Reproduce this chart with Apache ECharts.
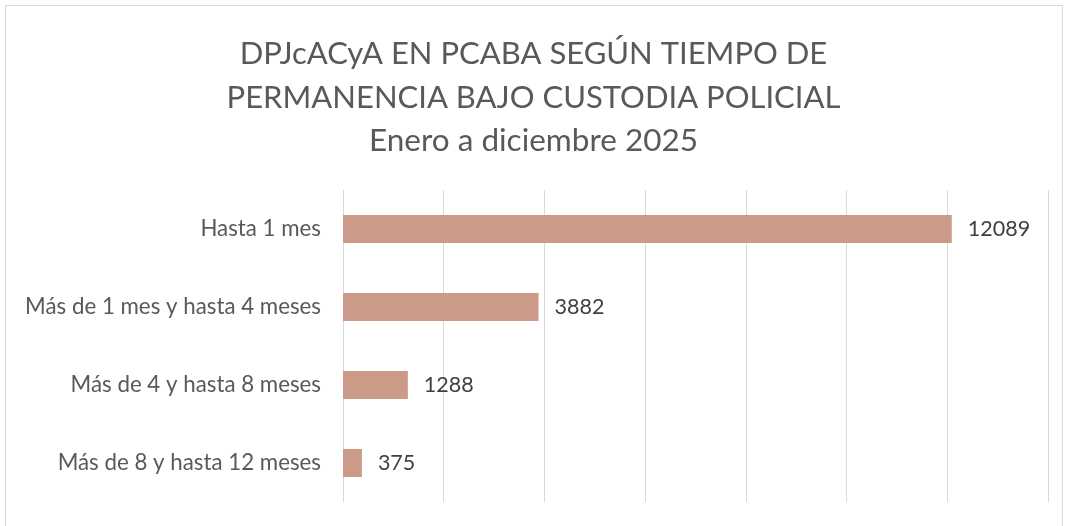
<!DOCTYPE html>
<html>
<head>
<meta charset="utf-8">
<script src="https://cdn.jsdelivr.net/npm/echarts@6/dist/echarts.min.js"></script>
<style>
  html, body { margin: 0; padding: 0; background: #fff; }
  #chart { width: 1067px; height: 526px; }
</style>
</head>
<body>
<div id="chart"></div>
<script>
// categorías (de arriba hacia abajo)
const categorias = ['Hasta 1 mes', 'Más de 1 mes y hasta 4 meses', 'Más de 4 y hasta 8 meses', 'Más de 8 y hasta 12 meses']
// cantidad de detenidos por tramo
const valores = [12089, 3882, 1288, 375]
const tituloLineas = ['DPJcACyA EN PCABA SEGÚN TIEMPO DE', 'PERMANENCIA BAJO CUSTODIA POLICIAL']
const subtitulo = 'Enero a diciembre 2025'

const chart = echarts.init(document.getElementById('chart'))
const option = {
  backgroundColor: '#fff',
  animation: false,
  title: {
    text: tituloLineas.join('\n'),
    subtext: subtitulo,
    left: 'center',
    top: 27,
    itemGap: 3,
    textStyle: { fontFamily: 'Lato', fontSize: 31, fontWeight: 'normal', color: '#595959', lineHeight: 44 },
    subtextStyle: { fontFamily: 'Lato', fontSize: 31.5, color: '#595959', lineHeight: 36 }
  },
  graphic: [{
    type: 'rect',
    shape: { x: 5.5, y: 5.5, width: 1057, height: 540 },
    style: { fill: 'none', stroke: '#d9d9d9', lineWidth: 1 },
    silent: true
  }],
  grid: { left: 343, right: 19, top: 190, bottom: 24 },
  xAxis: {
    type: 'value',
    min: 0,
    max: 14000,
    interval: 2000,
    axisLabel: { show: false },
    axisLine: { show: false },
    axisTick: { show: false },
    splitLine: { lineStyle: { color: '#d9d9d9', width: 1 } }
  },
  yAxis: {
    type: 'category',
    data: categorias,
    inverse: true,
    axisTick: { show: false },
    axisLine: { show: true, lineStyle: { color: '#d9d9d9' } },
    axisLabel: { fontFamily: 'Lato', fontSize: 22.3, color: '#595959', margin: 22 }
  },
  series: [{
    type: 'bar',
    data: valores,
    barWidth: 28,
    itemStyle: { color: '#CC9A88' },
    label: {
      show: true,
      position: 'right',
      distance: 16,
      fontFamily: 'Lato',
      fontSize: 21.5,
      color: '#404040'
    }
  }]
}
chart.setOption(option)
</script>
</body>
</html>
